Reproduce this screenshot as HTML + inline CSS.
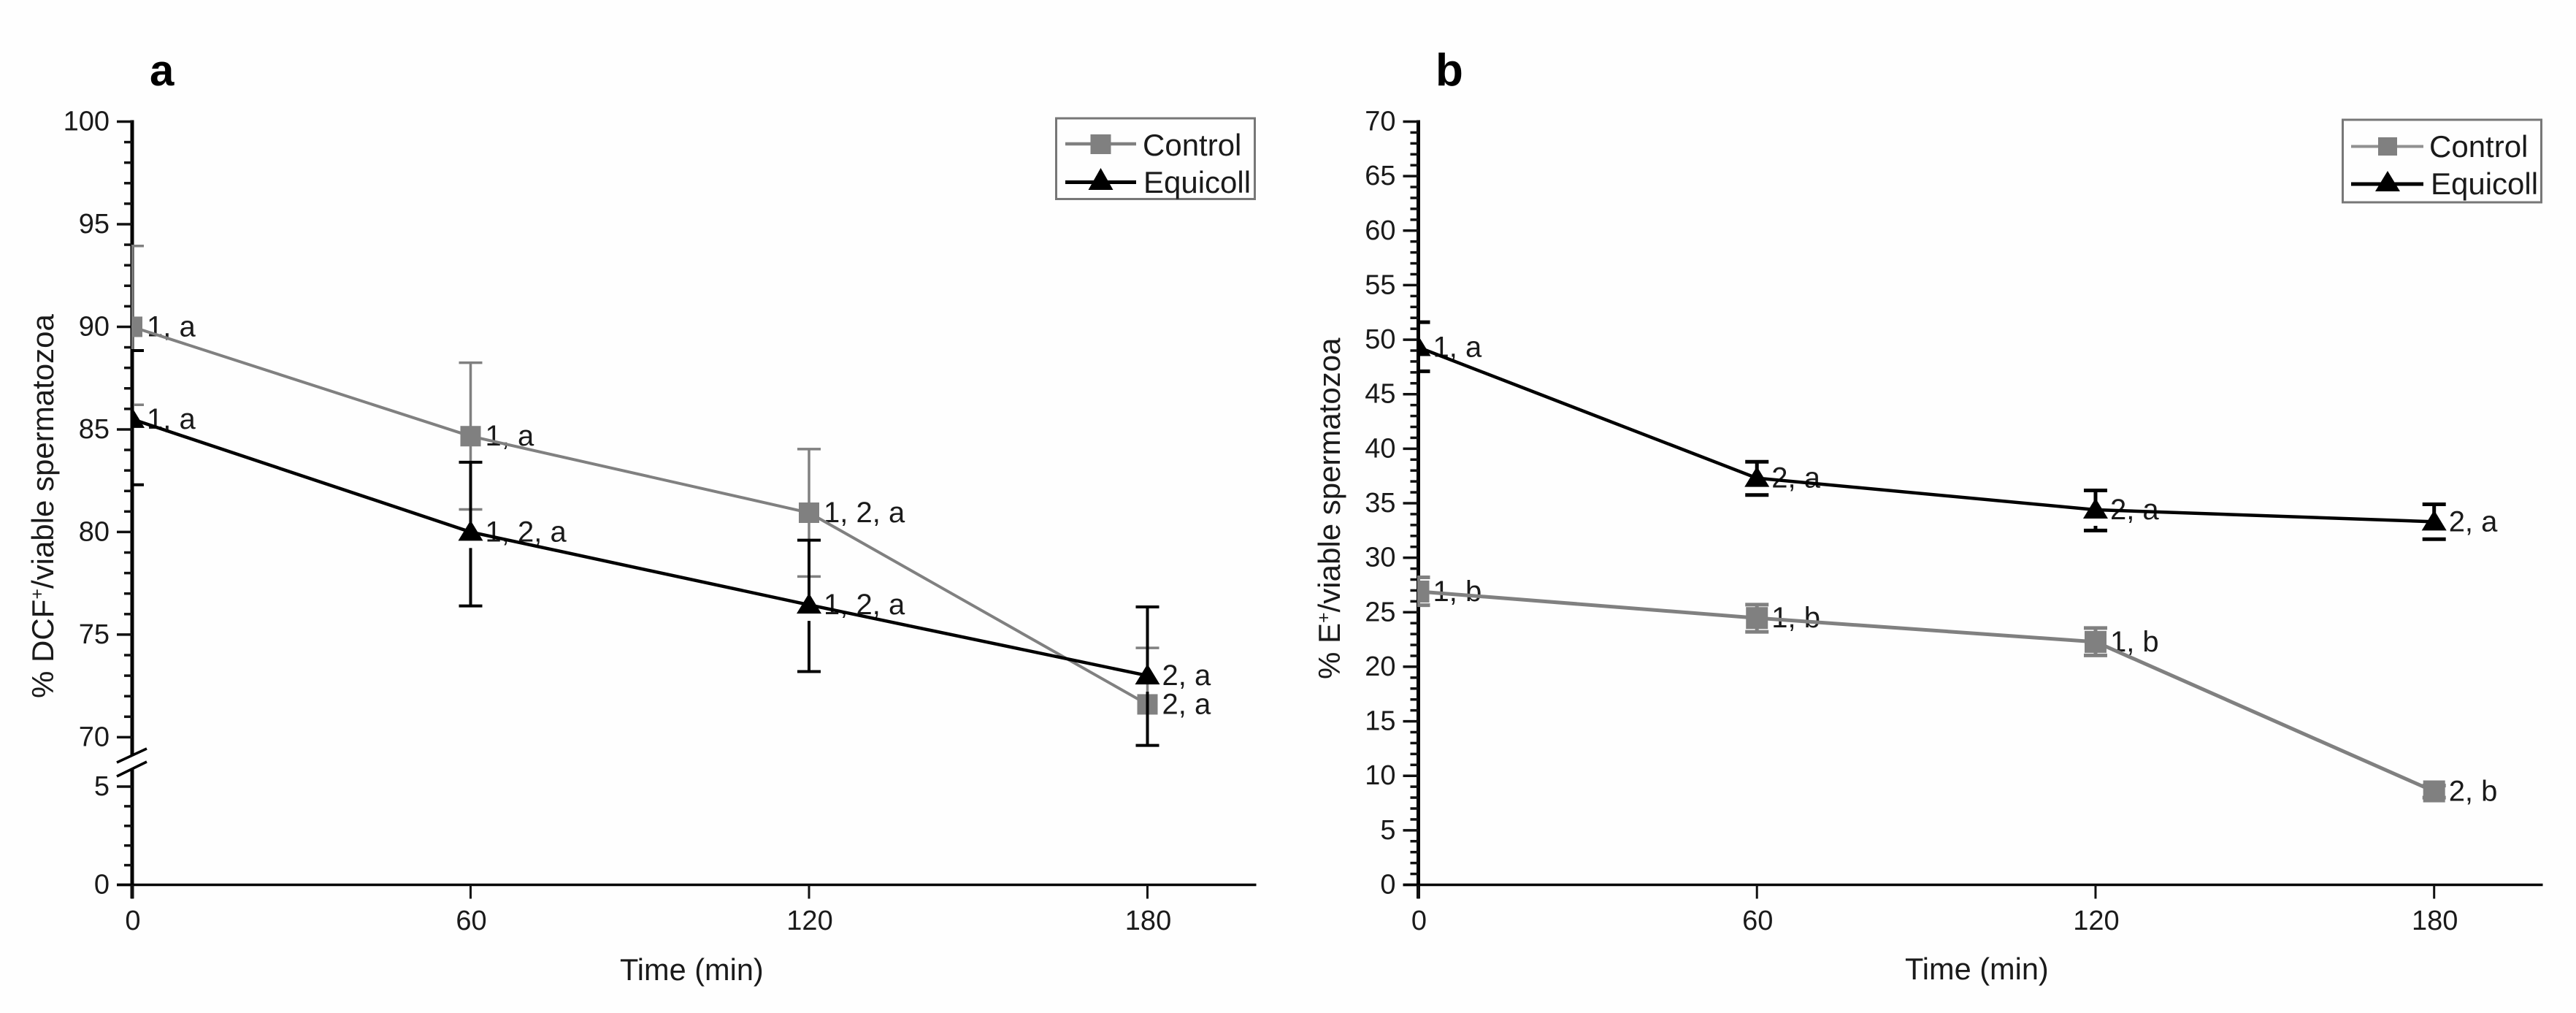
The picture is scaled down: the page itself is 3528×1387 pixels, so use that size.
<!DOCTYPE html>
<html lang="en">
<head>
<meta charset="utf-8">
<title>DCF and E positive viable spermatozoa over time</title>
<style>
html,body{margin:0;padding:0;background:#fefefe;}
svg{display:block;}
text{font-family:"Liberation Sans",sans-serif;fill:#1a1a1a;}
</style>
</head>
<body>
<svg id="figure" xmlns="http://www.w3.org/2000/svg" width="3528" height="1387" viewBox="0 0 3528 1387">
  <defs>
    <clipPath id="clip-a"><rect x="180" y="0" width="1600" height="1387"/></clipPath>
    <clipPath id="clip-b"><rect x="1941" y="0" width="1600" height="1387"/></clipPath>
  </defs>
  <rect x="0" y="0" width="3528" height="1387" fill="#fefefe"/>

  <g id="panel-a">
    <text x="205" y="117" font-size="60" font-weight="bold" style="fill:#000">a</text>
    <text transform="translate(73,956) rotate(-90)" font-size="42">% DCF<tspan dy="-14" font-size="25">+</tspan><tspan dy="14">/viable spermatozoa</tspan></text>
    <text x="849" y="1342" font-size="41.5">Time (min)</text>
  </g>

  <g id="panel-b">
    <text x="1966" y="117" font-size="62" font-weight="bold" style="fill:#000">b</text>
    <text transform="translate(1835,930) rotate(-90)" font-size="42">% E<tspan dy="-14" font-size="25">+</tspan><tspan dy="14">/viable spermatozoa</tspan></text>
    <text x="2609" y="1341" font-size="41.5">Time (min)</text>
  </g>

  <g>
    <rect x="1446.5" y="162" width="272" height="110.5" fill="#fefefe" stroke="#777" stroke-width="3"/>
    <line x1="1459" y1="197" x2="1556" y2="197" stroke="#808080" stroke-width="4.5"/>
    <rect x="1493.5" y="184" width="28" height="27" fill="#808080"/>
    <text x="1565" y="213" font-size="42">Control</text>
    <line x1="1459" y1="249.5" x2="1556" y2="249.5" stroke="#000" stroke-width="5"/>
    <polygon points="1507.5,230 1524.5,260 1490.5,260" fill="#000"/>
    <text x="1566" y="264" font-size="42">Equicoll</text>
  </g>

  <g>
    <rect x="3208.5" y="164" width="272" height="113" fill="#fefefe" stroke="#777" stroke-width="3"/>
    <line x1="3220" y1="200.5" x2="3319" y2="200.5" stroke="#909090" stroke-width="4"/>
    <rect x="3257" y="188" width="26" height="25" fill="#808080"/>
    <text x="3327" y="215" font-size="42">Control</text>
    <line x1="3220" y1="252" x2="3319" y2="252" stroke="#000" stroke-width="5"/>
    <polygon points="3270,234 3287,262 3253,262" fill="#000"/>
    <text x="3329" y="266" font-size="42">Equicoll</text>
  </g>
</svg>

<script>
// ---- Shared categories ----
const timePoints = [0, 60, 120, 180];
const xTickLabels = ['0', '60', '120', '180'];

// ---- Panel a values ----
const aYTicksUpper = [70, 75, 80, 85, 90, 95, 100];
const aYTicksLower = [0, 5];
const aControlMean = [90.0, 84.67, 80.94, 71.6];
const aControlUpper = [93.94, 88.25, 84.04, 74.35];
const aControlLower = [86.2, 81.1, 77.83, 69.6];
const aEquicollMean = [85.5, 80.0, 76.45, 73.0];
const aEquicollUpper = [88.84, 83.4, 79.6, 76.35];
const aEquicollLower = [82.3, 76.4, 73.2, 69.6];
const aControlLabels = ['1, a', '1, a', '1, 2, a', '2, a'];
const aEquicollLabels = ['1, a', '1, 2, a', '1, 2, a', '2, a'];

// ---- Panel b values ----
const bYTicks = [0, 5, 10, 15, 20, 25, 30, 35, 40, 45, 50, 55, 60, 65, 70];
const bControlMean = [26.9, 24.47, 22.28, 8.57];
const bControlUpper = [28.2, 25.7, 23.55, 9.1];
const bControlLower = [25.65, 23.2, 21.04, 8.0];
const bEquicollMean = [49.3, 37.3, 34.4, 33.3];
const bEquicollUpper = [51.6, 38.8, 36.17, 34.9];
const bEquicollLower = [47.1, 35.75, 32.5, 31.7];
const bControlLabels = ['1, b', '1, b', '1, b', '2, b'];
const bEquicollLabels = ['1, a', '2, a', '2, a', '2, a'];

const SVG_NS = 'http://www.w3.org/2000/svg';
const GREY = '#808080';
const BLACK = '#000';

function make(parent, tag, attrs, text) {
  const el = document.createElementNS(SVG_NS, tag);
  for (const k in attrs) el.setAttribute(k, attrs[k]);
  if (text !== undefined) el.textContent = text;
  parent.appendChild(el);
  return el;
}

// ---- Axis functions ----
function xA(t) { return 181 + t * (1571.5 - 181) / 180; }
function xB(t) { return 1942.5 + t * (3333.7 - 1942.5) / 180; }
function yA(v) {
  if (v >= 10) return 1009.4 - (v - 70) * (1009.4 - 166.5) / 30;
  return 1211.5 - v * 26.9;
}
function yB(v) { return 1211.5 - v * (1211.5 - 166.5) / 70; }

function drawYTick(g, x, y, isMajor) {
  const len = isMajor ? 21 : 11;
  const t = make(g, 'line', { x1: x - len, y1: y, x2: x, y2: y, stroke: '#111', 'stroke-width': 3.5 });
  
  
}

function drawYLabel(g, x, y, label) {
  const t = make(g, 'text', { x: x - 31, y: y + 12, 'font-size': 38, 'text-anchor': 'end' }, String(label));
  
  
}

function drawXAxis(g, xFn, axisLeft, axisRight, y0) {
  const line = make(g, 'line', { x1: axisLeft - 21, y1: y0, x2: axisRight, y2: y0, stroke: '#000', 'stroke-width': 3.5 });
  
  
  timePoints.forEach(function (t, i) {
    const tick = make(g, 'line', { x1: xFn(t), y1: y0, x2: xFn(t), y2: y0 + 19, stroke: '#111', 'stroke-width': i === 0 ? 4.5 : 3 });
    
    
    const lab = make(g, 'text', { x: xFn(t) + 1, y: 1273, 'font-size': 38, 'text-anchor': 'middle' }, xTickLabels[i]);
    
    
  });
}

function drawErrorBars(g, xFn, yFn, mean, upper, lower, color, width, gap) {
  timePoints.forEach(function (t, i) {
    const x = xFn(t);
    const yTop = yFn(upper[i]);
    const yBottom = yFn(lower[i]);
    const yMean = yFn(mean[i]);
    const up = make(g, 'line', { x1: x, y1: yTop, x2: x, y2: yMean, stroke: color, 'stroke-width': width });
    
    
    const start = Math.min(yMean + gap, yBottom);
    const down = make(g, 'line', { x1: x, y1: start, x2: x, y2: yBottom, stroke: color, 'stroke-width': width });
    
    
    const capTop = make(g, 'line', { x1: x - 16, y1: yTop, x2: x + 16, y2: yTop, stroke: color, 'stroke-width': width });
    
    
    const capBottom = make(g, 'line', { x1: x - 16, y1: yBottom, x2: x + 16, y2: yBottom, stroke: color, 'stroke-width': width });
    
    
  });
}

function drawLine(g, xFn, yFn, mean, color, width) {
  const pts = timePoints.map(function (t, i) { return xFn(t) + ',' + yFn(mean[i]); }).join(' ');
  const line = make(g, 'polyline', { points: pts, fill: 'none', stroke: color, 'stroke-width': width, 'stroke-linejoin': 'round' });
  
  
}

function drawSquares(g, xFn, yFn, mean, size) {
  timePoints.forEach(function (t, i) {
    const m = make(g, 'rect', { x: xFn(t) - size / 2, y: yFn(mean[i]) - size / 2, width: size, height: size, fill: GREY });
    
    
  });
}

function drawTriangles(g, xFn, yFn, mean) {
  timePoints.forEach(function (t, i) {
    const x = xFn(t);
    const y = yFn(mean[i]);
    const pts = x + ',' + (y - 16) + ' ' + (x + 17) + ',' + (y + 12) + ' ' + (x - 17) + ',' + (y + 12);
    const m = make(g, 'polygon', { points: pts, fill: BLACK });
    
    
  });
}

function drawPointLabels(g, xFn, yFn, mean, labels) {
  timePoints.forEach(function (t, i) {
    const lab = make(g, 'text', { x: xFn(t) + 20, y: yFn(mean[i]) + 13, 'font-size': 40 }, labels[i]);
    
    
  });
}

function drawSeries(root, clipId, xFn, yFn, cM, cU, cL, cT, eM, eU, eL, eT, greyBarW, blackBarW, greyLineW, blackLineW, squareSize) {
  const labels = make(root, 'g', {});
  
  
  drawPointLabels(labels, xFn, yFn, cM, cT);
  drawPointLabels(labels, xFn, yFn, eM, eT);

  const control = make(root, 'g', { 'clip-path': 'url(#' + clipId + ')' });
  
  
  drawErrorBars(control, xFn, yFn, cM, cU, cL, GREY, greyBarW, 0);
  drawLine(control, xFn, yFn, cM, GREY, greyLineW);

  const equicoll = make(root, 'g', { 'clip-path': 'url(#' + clipId + ')' });
  
  
  drawErrorBars(equicoll, xFn, yFn, eM, eU, eL, BLACK, blackBarW, 22);
  drawLine(equicoll, xFn, yFn, eM, BLACK, blackLineW);

  drawSquares(control, xFn, yFn, cM, squareSize);
  drawTriangles(equicoll, xFn, yFn, eM);
}

// ---- Panel a ----
(function () {
  const root = document.getElementById('panel-a');
  const axes = make(root, 'g', {});
  
  
  const x0 = xA(0);

  const upperAxis = make(axes, 'line', { x1: x0, y1: yA(100) - 2, x2: x0, y2: 1034, stroke: '#000', 'stroke-width': 5 });
  
  
  const lowerAxis = make(axes, 'line', { x1: x0, y1: 1053, x2: x0, y2: 1230, stroke: '#000', 'stroke-width': 5 });
  
  

  const slashTop = make(axes, 'line', { x1: x0 - 21, y1: 1044, x2: x0 + 20, y2: 1025, stroke: '#000', 'stroke-width': 3.5 });
  
  
  const slashBottom = make(axes, 'line', { x1: x0 - 21, y1: 1063, x2: x0 + 20, y2: 1043, stroke: '#000', 'stroke-width': 3.5 });
  
  

  aYTicksUpper.concat(aYTicksLower).forEach(function (v) {
    drawYTick(axes, x0, yA(v), true);
    drawYLabel(axes, x0, yA(v), v);
    const isTop = v === aYTicksUpper[aYTicksUpper.length - 1] || v === aYTicksLower[aYTicksLower.length - 1];
    if (!isTop) {
      for (let k = 1; k < 5; k++) drawYTick(axes, x0, yA(v + k), false);
    }
  });

  drawXAxis(axes, xA, x0, 1720.5, yA(0));
  drawSeries(root, 'clip-a', xA, yA,
    aControlMean, aControlUpper, aControlLower, aControlLabels,
    aEquicollMean, aEquicollUpper, aEquicollLower, aEquicollLabels,
    3.5, 4, 4, 4.5, 28);
})();

// ---- Panel b ----
(function () {
  const root = document.getElementById('panel-b');
  const axes = make(root, 'g', {});
  
  
  const x0 = xB(0);

  const yAxis = make(axes, 'line', { x1: x0, y1: yB(70) - 2, x2: x0, y2: 1230, stroke: '#000', 'stroke-width': 5 });
  
  

  bYTicks.forEach(function (v, i) {
    drawYTick(axes, x0, yB(v), true);
    drawYLabel(axes, x0, yB(v), v);
    if (i < bYTicks.length - 1) {
      for (let k = 1; k < 5; k++) drawYTick(axes, x0, yB(v + k), false);
    }
  });

  drawXAxis(axes, xB, x0, 3482.5, yB(0));
  drawSeries(root, 'clip-b', xB, yB,
    bControlMean, bControlUpper, bControlLower, bControlLabels,
    bEquicollMean, bEquicollUpper, bEquicollLower, bEquicollLabels,
    5, 5, 5, 4.5, 30);
})();
</script>
</body>
</html>
